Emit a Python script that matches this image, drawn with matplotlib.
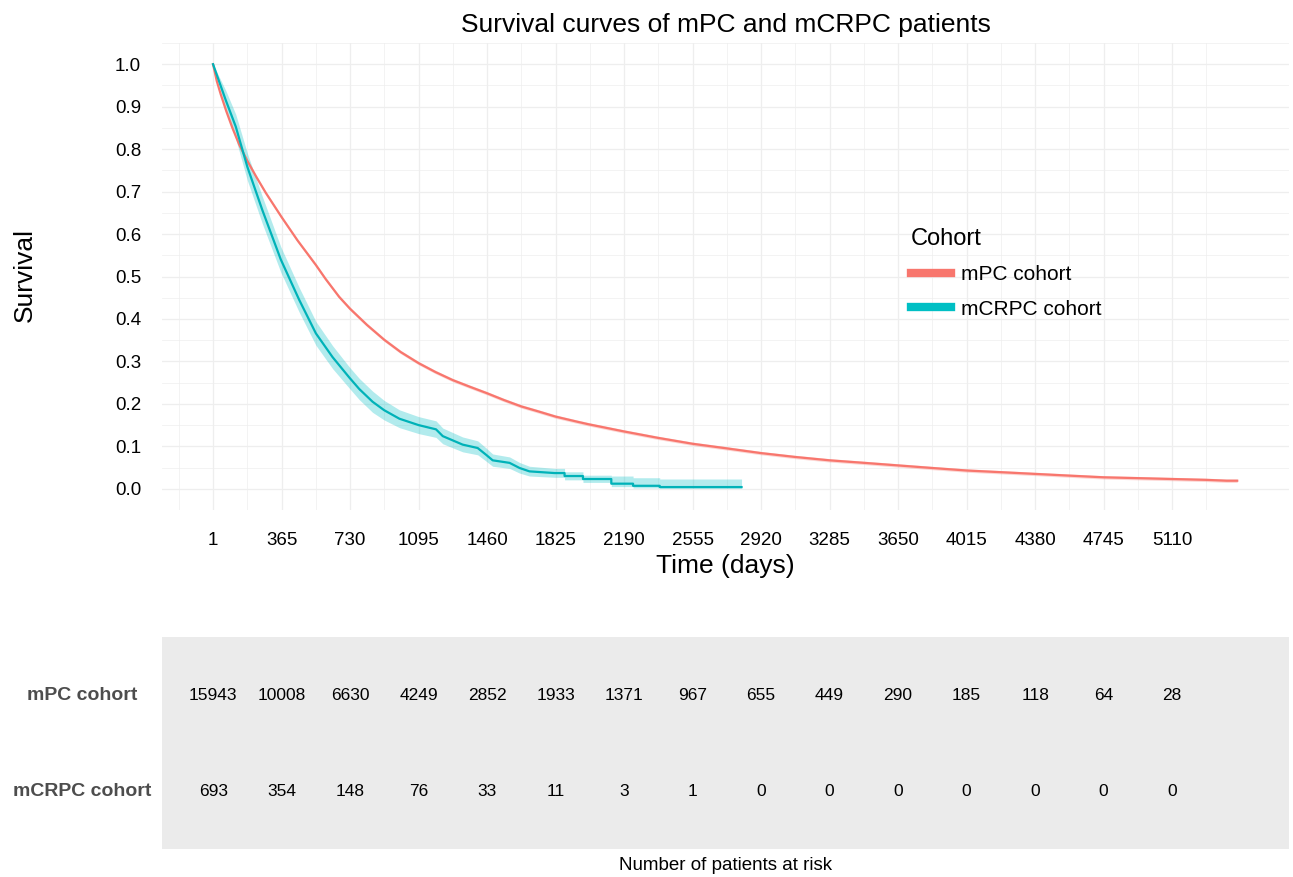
import matplotlib
matplotlib.use('Agg')
import matplotlib.pyplot as plt
from matplotlib.lines import Line2D
import numpy as np

plt.rcParams['font.family'] = ['Liberation Sans', 'DejaVu Sans']

# mPC cohort
mpc_days = [0, 20, 41, 70, 103, 140, 183, 230, 281, 365, 450, 548, 600, 672, 730, 820, 912,
            1000, 1095, 1185, 1277, 1370, 1460, 1550, 1642, 1735, 1825, 1940, 2000, 2190,
            2370, 2555, 2740, 2920, 3100, 3285, 3470, 3650, 3830, 4015, 4200, 4380, 4560,
            4745, 4930, 5110, 5290, 5400, 5457]
mpc_surv = [1.0, 0.96, 0.929, 0.89, 0.85, 0.81, 0.772, 0.735, 0.697, 0.64, 0.585, 0.527,
            0.494, 0.452, 0.424, 0.386, 0.351, 0.322, 0.296, 0.275, 0.256, 0.240, 0.225,
            0.209, 0.194, 0.182, 0.170, 0.158, 0.152, 0.135, 0.120, 0.106, 0.095, 0.084,
            0.075, 0.067, 0.061, 0.055, 0.049, 0.043, 0.039, 0.035, 0.031, 0.027, 0.025,
            0.023, 0.021, 0.019, 0.019]
mpc_ci = [0.0, 0.002, 0.003, 0.003] + [0.004] * 45

# mCRPC cohort
mcrpc_days = [0, 68, 121, 183, 263, 361, 459, 548, 637, 726, 779, 850, 912, 993, 1095, 1188,
              1224, 1330, 1410, 1455, 1490, 1580, 1633, 1686, 1820, 1873, 1873, 1971, 1971,
              2122, 2122, 2238, 2238, 2380, 2380, 2816]
mcrpc_surv = [1.0, 0.915, 0.853, 0.758, 0.656, 0.54, 0.445, 0.366, 0.310, 0.262, 0.235, 0.205,
              0.185, 0.165, 0.150, 0.140, 0.124, 0.104, 0.096, 0.080, 0.067, 0.061, 0.049,
              0.041, 0.037, 0.037, 0.030, 0.030, 0.023, 0.023, 0.012, 0.012, 0.007, 0.007,
              0.004, 0.004]
mcrpc_lo = [1.0, 0.892, 0.824, 0.726, 0.624, 0.510, 0.416, 0.338, 0.283, 0.237, 0.210, 0.180,
            0.162, 0.144, 0.130, 0.121, 0.106, 0.087, 0.080, 0.065, 0.053, 0.048, 0.037,
            0.030, 0.027, 0.027, 0.021, 0.021, 0.015, 0.015, 0.005, 0.005, 0.002, 0.002,
            0.001, 0.001]
mcrpc_hi = [1.0, 0.938, 0.882, 0.790, 0.688, 0.570, 0.474, 0.394, 0.337, 0.287, 0.260, 0.230,
            0.208, 0.186, 0.170, 0.160, 0.143, 0.122, 0.113, 0.096, 0.082, 0.075, 0.062,
            0.053, 0.048, 0.048, 0.040, 0.040, 0.032, 0.032, 0.030, 0.030, 0.026, 0.026,
            0.023, 0.023]

tick_days = [1, 365, 730, 1095, 1460, 1825, 2190, 2555, 2920, 3285, 3650, 4015, 4380, 4745, 5110]
risk_mpc = [15943, 10008, 6630, 4249, 2852, 1933, 1371, 967, 655, 449, 290, 185, 118, 64, 28]
risk_mcrpc = [693, 354, 148, 76, 33, 11, 3, 1, 0, 0, 0, 0, 0, 0, 0]
cohorts = ['mPC cohort', 'mCRPC cohort']

red = '#F8766D'
teal = '#00BFC4'
grid_c = '#EEEEEE'

W, H = 1293, 877
fig = plt.figure(figsize=(W / 100, H / 100), dpi=100)

def px_box(l, t, r, b):
    return [l / W, 1 - b / H, (r - l) / W, (b - t) / H]

ax = fig.add_axes(px_box(162, 43, 1289, 510))
xlim = (-272, 5733)
ax.set_xlim(*xlim)
ax.set_ylim(-0.05, 1.05)

# grid like theme_minimal
minor_x = [tick_days[0] - 182] + [(a + b) / 2 for a, b in zip(tick_days[:-1], tick_days[1:])] + [tick_days[-1] + 182]
for xv in minor_x:
    ax.axvline(xv, color=grid_c, lw=0.5, zorder=0)
for xv in tick_days:
    ax.axvline(xv, color=grid_c, lw=0.9, zorder=0)
for yv in np.arange(-0.05, 1.06, 0.1):
    ax.axhline(yv, color=grid_c, lw=0.5, zorder=0)
for yv in np.arange(0, 1.01, 0.1):
    ax.axhline(yv, color=grid_c, lw=0.9, zorder=0)

mpc_s = np.array(mpc_surv)
mpc_c = np.array(mpc_ci)
ax.fill_between(mpc_days, mpc_s - mpc_c, mpc_s + mpc_c, color=red, alpha=0.3, lw=0, zorder=2)
ax.plot(mpc_days, mpc_surv, color=red, lw=1.6, zorder=3)
ax.fill_between(mcrpc_days, mcrpc_lo, mcrpc_hi, color=teal, alpha=0.3, lw=0, zorder=2)
ax.plot(mcrpc_days, mcrpc_surv, color='#00B2B8', lw=1.6, zorder=3)

ax.set_xticks(tick_days)
ax.set_xticklabels([str(d) for d in tick_days])
ax.set_yticks(np.round(np.arange(0, 1.01, 0.1), 1))
ax.set_yticklabels([f'{v:.1f}' for v in np.arange(0, 1.01, 0.1)])
ax.tick_params(axis='both', length=0, labelsize=13.5, colors='black')
ax.tick_params(axis='x', pad=16)
ax.tick_params(axis='y', pad=15)
for s in ax.spines.values():
    s.set_visible(False)

fig.text(725.5 / W, 1 - 25 / H, 'Survival curves of mPC and mCRPC patients',
         ha='center', va='center', fontsize=19)
fig.text(725.5 / W, 1 - 566 / H, 'Time (days)', ha='center', va='center', fontsize=19)
fig.text(25 / W, 1 - 275 / H, 'Survival', ha='center', va='center', rotation=90, fontsize=19)

handles = [Line2D([0], [0], color=red, lw=6), Line2D([0], [0], color=teal, lw=6)]
leg = ax.legend(handles, cohorts, title='Cohort', loc='upper left',
                bbox_to_anchor=(0.648, 0.645), frameon=False, fontsize=15,
                title_fontsize=17, handlelength=1.9, handletextpad=0.5,
                labelspacing=0.75, alignment='left')

# risk table
tb = fig.add_axes(px_box(162, 637, 1289, 849))
tb.set_facecolor('#EBEBEB')
tb.set_xlim(*xlim)
tb.set_ylim(0, 1)
tb.set_xticks([])
tb.set_yticks([])
for s in tb.spines.values():
    s.set_visible(False)
row_y = [0.722, 0.269]
for row, yv in zip([risk_mpc, risk_mcrpc], row_y):
    for d, n in zip(tick_days, row):
        tb.text(d, yv, str(n), ha='center', va='center', fontsize=12.5)
for name, yv in zip(cohorts, row_y):
    tb.text(-0.071, yv, name, transform=tb.transAxes, ha='center', va='center',
            fontsize=14, fontweight='bold', color='#4D4D4D')
fig.text(725.5 / W, 1 - 866 / H, 'Number of patients at risk', ha='center', va='center',
         fontsize=13.5)

fig.savefig('out.png', dpi=100)
